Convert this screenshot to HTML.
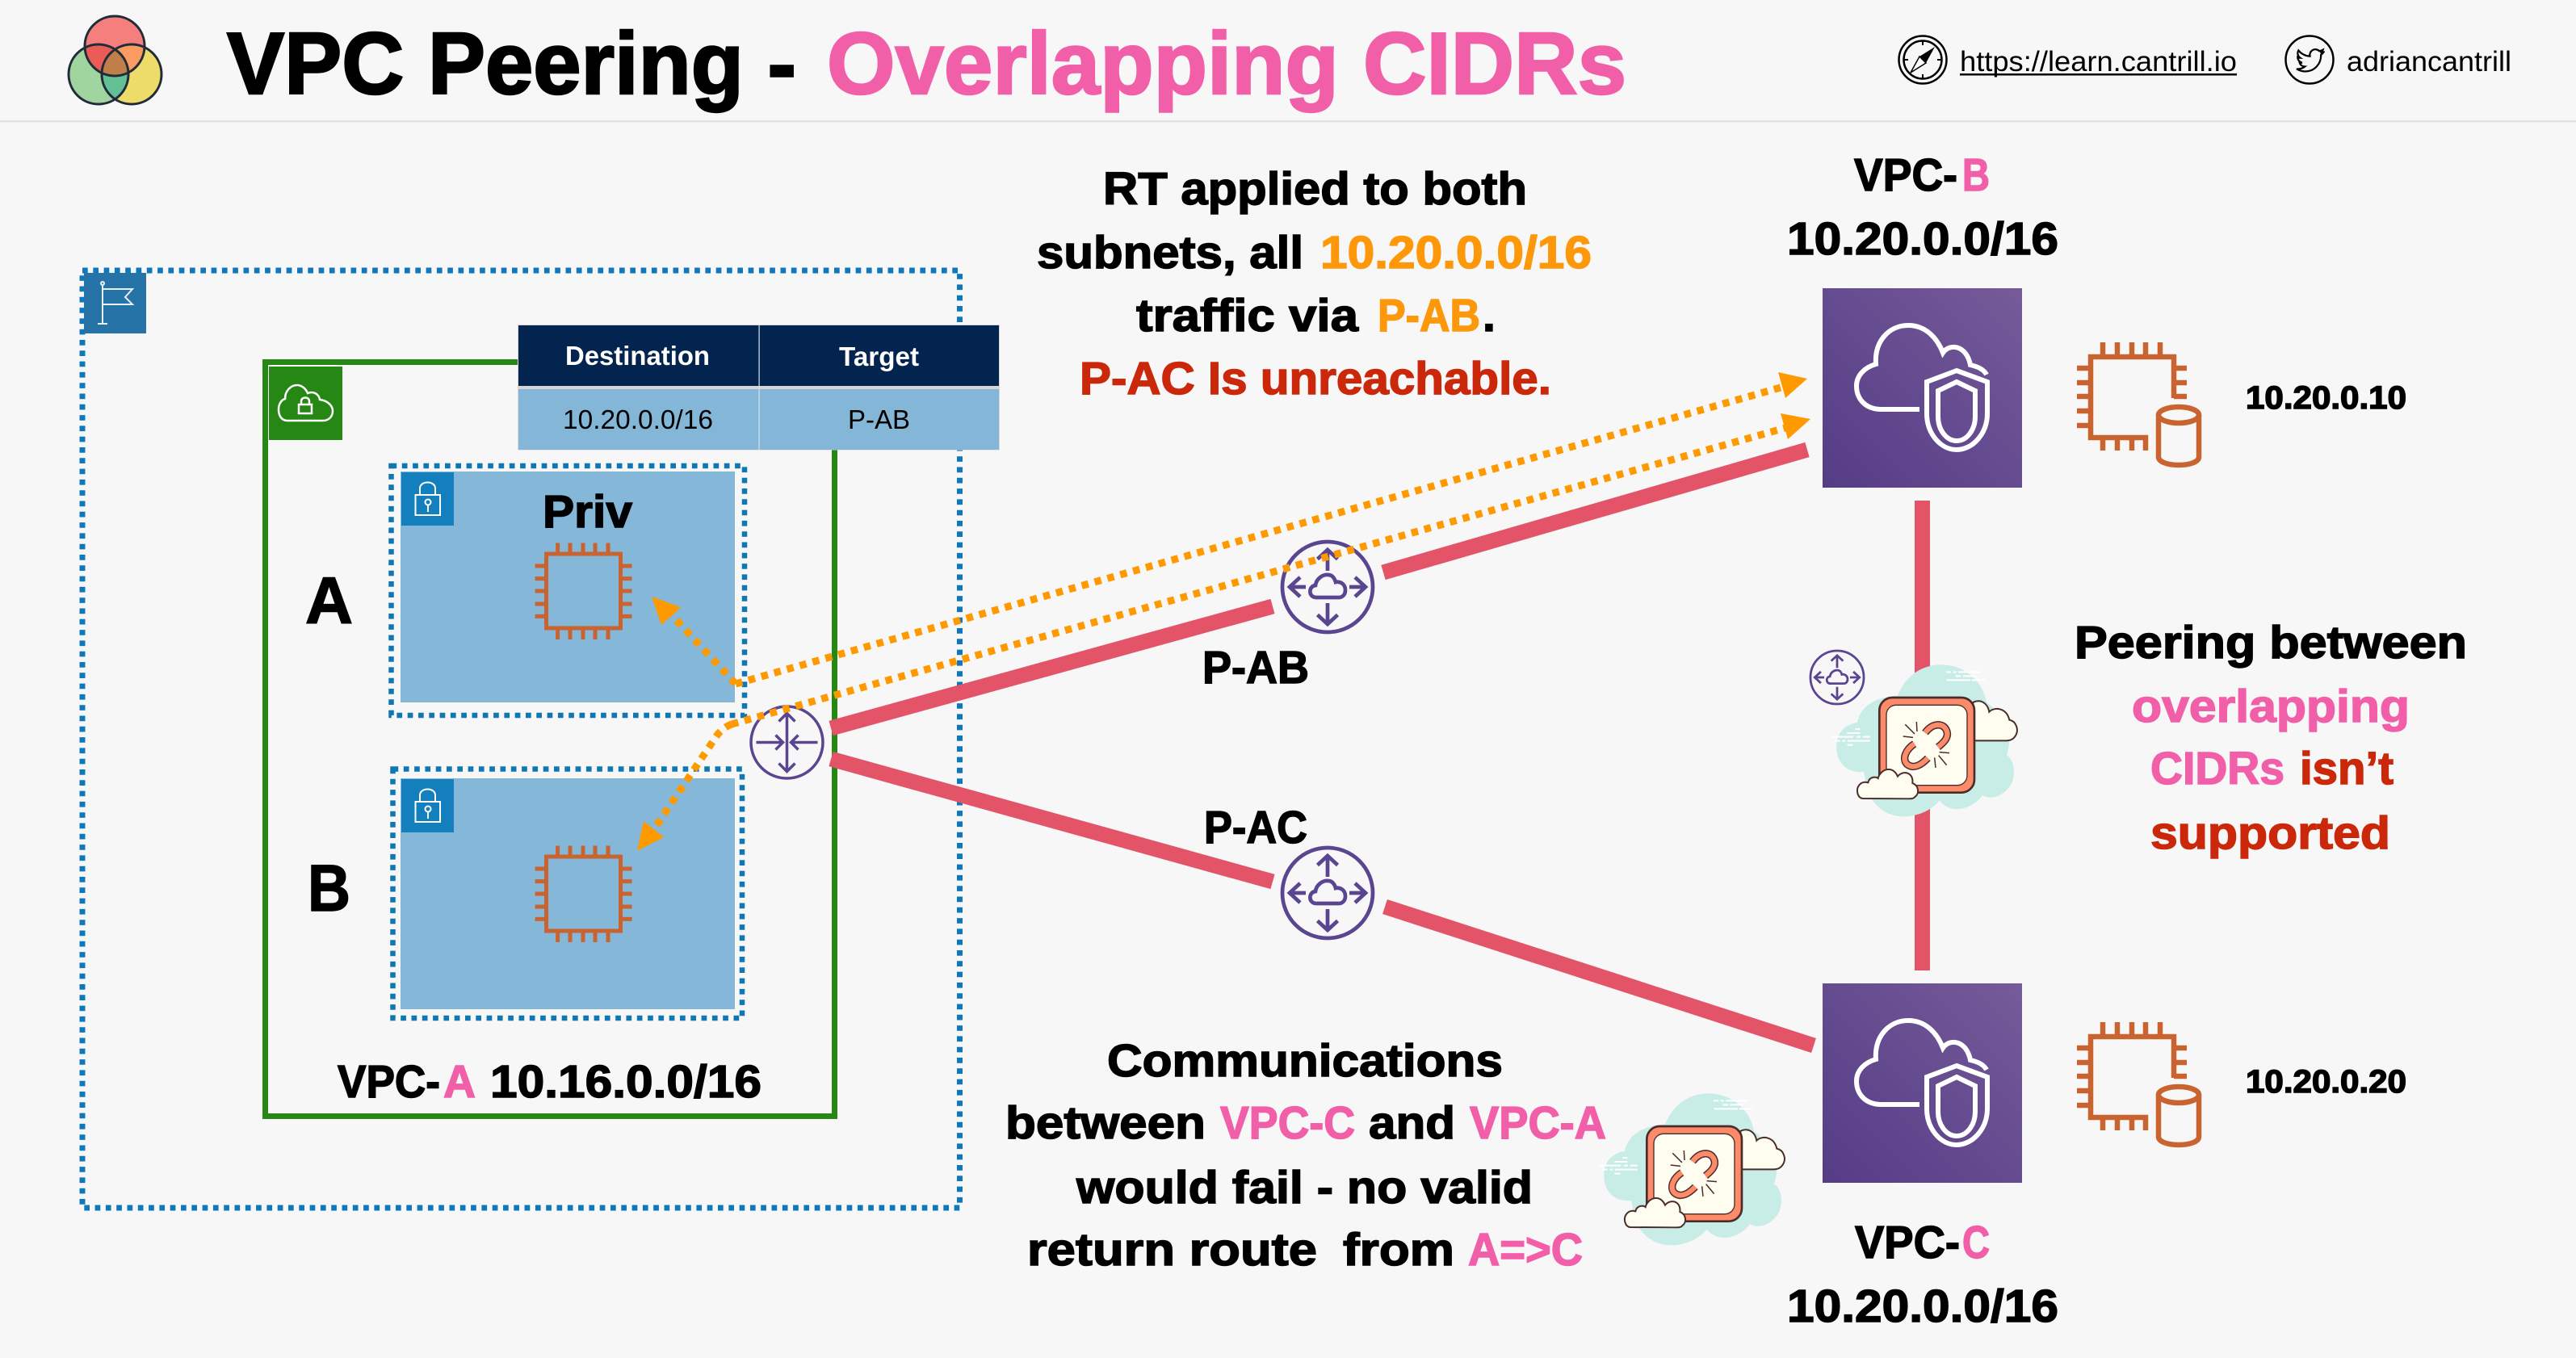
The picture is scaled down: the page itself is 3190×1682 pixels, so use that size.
<!DOCTYPE html>
<html><head><meta charset="utf-8"><title>VPC Peering - Overlapping CIDRs</title>
<style>
html,body{margin:0;padding:0;background:#f7f7f7;width:3190px;height:1682px;overflow:hidden}
svg{display:block}
text{font-family:"Liberation Sans",sans-serif;font-weight:700;fill:#000}
.h{stroke:#000;stroke-width:1.5px}
.pk{fill:#f25fa9;stroke:#f25fa9;stroke-width:1.5px}
.or{fill:#fd980b;stroke:#fd980b;stroke-width:1.5px}
.rd{fill:#cb280b;stroke:#cb280b;stroke-width:1.5px}
</style></head><body>
<svg width="3190" height="1682" viewBox="0 0 3190 1682" xmlns="http://www.w3.org/2000/svg">
<defs>
<linearGradient id="pg" x1="0" y1="1" x2="1" y2="0"><stop offset="0" stop-color="#553c86"/><stop offset="1" stop-color="#755b99"/></linearGradient>
<clipPath id="cR"><circle cx="142" cy="57" r="37"/></clipPath>
<clipPath id="cG"><circle cx="122" cy="92" r="37"/></clipPath>
<clipPath id="cY"><circle cx="163" cy="92" r="37"/></clipPath>

<g id="rt" fill="none" stroke="#5a4590" stroke-width="4.7">
<circle r="56"/>
<path d="M0 -20V-46M-12.500 -34.500L0 -46L12.500 -34.500M0 20V46M-12.500 34.500L0 46L12.500 34.500M-27 0H-47M-34 -12L-47 0L-34 12M27 0H47M34 -12L47 0L34 12"/>
<path d="M-14 13C-24 13 -24 -1 -15 -2C-14 -10 -6 -16 1 -15C6 -15 9 -10 10 -6C14 -7 22 -5 22 4C22 10 18 13 14 13Z"/>
</g>

<g id="chip" fill="none" stroke="#c96430" stroke-width="5">
<rect x="676.500" y="686" width="92" height="92"/>
<path d="M690.600 672.500V684M706 672.500V684M722 672.500V684M737 672.500V684M753 672.500V684M690.600 780V792M706 780V792M722 780V792M737 780V792M753 780V792M662.500 701H674M662.500 716.600H674M662.500 732H674M662.500 748H674M662.500 763.400H674M771 701H782.500M771 716.600H782.500M771 732H782.500M771 748H782.500M771 763.400H782.500"/>
</g>

<g id="chipdb" fill="none" stroke="#c96430" stroke-width="6.500">
<path d="M2692 1335V1284H2589V1384H2657V1400"/>
<path d="M2604 1266V1282M2622 1266V1282M2640 1266V1282M2657 1266V1282M2675 1266V1282M2604 1384V1400M2622 1384V1400M2640 1384V1400M2572 1298H2588M2572 1316H2588M2572 1333H2588M2572 1351H2588M2572 1369H2588M2692 1298H2708M2692 1316H2708M2692 1333H2708"/>
<ellipse cx="2698" cy="1356" rx="25" ry="10"/>
<path d="M2673 1356V1408C2673 1414 2684 1418 2698 1418C2712 1418 2723 1414 2723 1408V1356"/>
</g>

<g id="vpc">
<rect x="0" y="0" width="247" height="247" fill="url(#pg)"/>
<g fill="none" stroke="#fff" stroke-width="6">
<path d="M120 150H73C52 150 42 136 42 121C42 108 52 98 66 94C64 66 82 46 106 46C128 46 142 62 149 80C157 68 178 70 183 95C192 97 200 101 203 107"/>
<path d="M166 102L129 116V155C129 180 146 200 166 200C186 200 204 180 204 155V116Z"/>
<path d="M166 116L143 127V159C143 175 153 189 166 189C179 189 189 175 189 159V127Z"/>
</g>
</g>

<g id="lock" fill="none" stroke="#fff" stroke-width="2">
<rect x="514.500" y="613" width="30.500" height="25"/>
<path d="M520 613V605C520 595 539 595 539 605V613"/>
<circle cx="530" cy="622" r="3.500"/>
<path d="M530 625.500V634"/>
</g>

<g id="broken" transform="translate(2180 780) scale(.3333)">
<path fill="#c8ece6" d="M510 245C540 170 600 130 670 130C760 130 825 190 840 270C880 300 925 350 925 410C925 430 920 450 915 465C950 490 950 560 920 590C890 625 850 630 825 615C790 665 710 690 665 635C620 690 530 710 470 680C430 660 410 630 395 590L385 528C320 535 280 490 283 430C283 380 320 350 360 345C370 290 420 250 510 245Z"/>
<path fill="#fffcf0" stroke="#4a2d2a" stroke-width="6" d="M790 270C820 255 845 275 850 305C870 285 915 290 925 335C950 340 960 370 950 390C940 410 925 412 915 412H790Z"/>
<rect x="442" y="252" width="353" height="353" rx="48" fill="#fd8a68" stroke="#4a2d2a" stroke-width="8"/>
<rect x="468" y="280" width="300" height="298" rx="36" fill="#fffcf0" stroke="#4a2d2a" stroke-width="4"/>
<g fill="none">
<path stroke="#4a2d2a" stroke-width="28" d="M612 383C640 345 680 345 692 375C702 400 680 420 660 436"/>
<path stroke="#fd8a68" stroke-width="19" d="M612 383C640 345 680 345 692 375C702 400 680 420 660 436"/>
<path stroke="#4a2d2a" stroke-width="28" d="M572 424C540 445 525 480 545 500C570 520 600 500 622 477"/>
<path stroke="#fd8a68" stroke-width="19" d="M572 424C540 445 525 480 545 500C570 520 600 500 622 477"/>
<path stroke="#4a2d2a" stroke-width="4.500" d="M538 352L573 387M580 342L582 378M530 396L567 400M665 455L702 458M647 475L651 513M662 467L692 503"/>
</g>
<path fill="#fffcf0" stroke="#4a2d2a" stroke-width="6" d="M380 627C360 625 355 595 365 580C375 565 390 565 400 568C405 545 430 545 437 552C445 520 490 500 510 545C530 520 570 530 565 570C590 580 590 610 575 620C570 628 560 628 550 628Z"/>
<path stroke="#fff" stroke-width="6" fill="none" d="M690 157H708M716 157H728M735 157H818M725 172H745M752 172H800M692 187H780M785 187H835M352 369H370M322 384H370M263 398H345M358 398H372M380 398H407M277 413H296M304 413H316M323 413H407M322 428H344"/>
</g>
</defs>

<rect width="3190" height="1682" fill="#f7f7f7"/>
<rect x="0" y="149" width="3190" height="2.500" fill="#e1e1e1"/>

<!-- logo -->
<circle cx="142" cy="57" r="37" fill="#f47f7d"/>
<circle cx="122" cy="92" r="37" fill="#a0d5a0"/>
<circle cx="163" cy="92" r="37" fill="#eddc6a"/>
<g clip-path="url(#cR)"><circle cx="122" cy="92" r="37" fill="#ea5c55"/><circle cx="163" cy="92" r="37" fill="#fa9b62"/></g>
<g clip-path="url(#cG)"><circle cx="163" cy="92" r="37" fill="#62bf96"/></g>
<g clip-path="url(#cR)"><g clip-path="url(#cG)"><circle cx="163" cy="92" r="37" fill="#c07f4a"/></g></g>
<g fill="none" stroke="#222b3a" stroke-width="3"><circle cx="142" cy="57" r="37"/><circle cx="122" cy="92" r="37"/><circle cx="163" cy="92" r="37"/></g>

<!-- title -->
<text x="281" y="116" font-size="109" textLength="705" lengthAdjust="spacingAndGlyphs" style="stroke:#000;stroke-width:2.500px">VPC Peering -</text>
<text x="1024" y="116" font-size="109" textLength="990" lengthAdjust="spacingAndGlyphs" style="fill:#f25fa9;stroke:#f25fa9;stroke-width:2.500px">Overlapping CIDRs</text>

<!-- header right -->
<g fill="none" stroke="#000">
<circle cx="2381" cy="74" r="29.500" stroke-width="2.500"/>
<circle cx="2381" cy="74" r="23.500" stroke-width="2.500"/>
<path stroke-width="2" d="M2381 50.500V56M2381 92V97.500M2357.500 74H2363M2399 74H2404.500"/>
</g>
<polygon points="2396,58 2385,78 2377,70" fill="#000"/>
<polygon points="2366,90 2377,70 2385,78" fill="#fff" stroke="#000" stroke-width="1.500"/>
<text x="2427" y="88" font-size="35" textLength="343" lengthAdjust="spacingAndGlyphs" style="font-weight:400">https://learn.cantrill.io</text>
<rect x="2427" y="91" width="343" height="2.500" fill="#000"/>
<circle cx="2860" cy="74" r="29.500" fill="none" stroke="#000" stroke-width="2.500"/>
<path transform="translate(2844 58) scale(1.400)" fill="none" stroke="#000" stroke-width="1.600" d="M23.953 4.570a10 10 0 01-2.825.775 4.958 4.958 0 002.163-2.723c-.951.555-2.005.959-3.127 1.184a4.920 4.920 0 00-8.384 4.482C7.690 8.095 4.067 6.130 1.640 3.162a4.822 4.822 0 00-.666 2.475c0 1.710.870 3.213 2.188 4.096a4.904 4.904 0 01-2.228-.616v.060a4.923 4.923 0 003.946 4.827 4.996 4.996 0 01-2.212.085 4.936 4.936 0 004.604 3.417 9.867 9.867 0 01-6.102 2.105c-.390 0-.779-.023-1.170-.067a13.995 13.995 0 007.557 2.209c9.053 0 13.998-7.496 13.998-13.985 0-.210 0-.420-.015-.630A9.935 9.935 0 0024 4.590z"/>
<text x="2906" y="88" font-size="35" textLength="204" lengthAdjust="spacingAndGlyphs" style="font-weight:400">adriancantrill</text>

<!-- outer region -->
<rect x="102" y="335" width="1086.500" height="1161" fill="none" stroke="#0f78bb" stroke-width="7" stroke-dasharray="6.700 6.600"/>
<rect x="104" y="338" width="77" height="75" fill="#2573a7"/>
<g fill="none" stroke="#e8f0f5" stroke-width="2">
<path d="M127 353V401M121 401H133"/>
<circle cx="127" cy="351" r="2"/>
<path d="M127 358H164L155 368L164 377H127"/>
</g>

<!-- VPC A -->
<rect x="328.500" y="448.500" width="705" height="934" fill="none" stroke="#268715" stroke-width="7"/>
<rect x="333" y="454" width="91" height="91" fill="#268715"/>
<g fill="none" stroke="#fff" stroke-width="2.500">
<path d="M356 521C348 521 345 514 345 507C345 500 349 495 353 494C353 484 360 477 368 477C374 477 379 482 381 487C388 484 395 488 396 495C405 496 412 502 412 509C412 516 407 521 400 521Z"/>
<rect x="370" y="501" width="16" height="11"/>
<path d="M373 501V497C373 491 383 491 383 497V501"/>
</g>

<!-- subnets -->
<rect x="484.500" y="577" width="437.500" height="309" fill="none" stroke="#0f77b2" stroke-width="6.500" stroke-dasharray="6.700 6.600"/>
<rect x="496" y="584" width="414" height="286" fill="#84b7d8"/>
<rect x="497" y="585" width="65" height="66" fill="#147fbd"/>
<use href="#lock"/>
<rect x="486.500" y="952.500" width="432.500" height="308.500" fill="none" stroke="#0f77b2" stroke-width="6.500" stroke-dasharray="6.700 6.600"/>
<rect x="496" y="964" width="414" height="286" fill="#84b7d8"/>
<rect x="497" y="965" width="65" height="66" fill="#147fbd"/>
<use href="#lock" transform="translate(0 380)"/>
<use href="#chip"/>
<use href="#chip" transform="translate(0 375)"/>
<text x="672" y="653" font-size="57" textLength="111" lengthAdjust="spacingAndGlyphs" class="h">Priv</text>
<text x="378" y="772" font-size="82" textLength="59" lengthAdjust="spacingAndGlyphs" class="h">A</text>
<text x="381" y="1128" font-size="82" textLength="53" lengthAdjust="spacingAndGlyphs" class="h">B</text>
<text x="418" y="1359" font-size="57" textLength="127" lengthAdjust="spacingAndGlyphs" class="h">VPC-</text>
<text x="549" y="1359" font-size="57" textLength="40" lengthAdjust="spacingAndGlyphs" class="pk">A</text>
<text x="607" y="1359" font-size="57" textLength="336" lengthAdjust="spacingAndGlyphs" class="h">10.16.0.0/16</text>

<!-- table -->
<rect x="641" y="402" width="597" height="155.500" fill="#d6d6d6"/>
<rect x="642" y="403" width="595" height="75" fill="#03244f"/>
<rect x="642" y="482" width="595" height="75" fill="#84b7d7"/>
<rect x="939.500" y="403" width="1.200" height="154" fill="#d6e2ea"/>
<text x="700" y="452" font-size="33" textLength="179" lengthAdjust="spacingAndGlyphs" style="fill:#fff">Destination</text>
<text x="1039" y="453" font-size="33" textLength="99" lengthAdjust="spacingAndGlyphs" style="fill:#fff">Target</text>
<text x="697" y="531" font-size="33" textLength="186" lengthAdjust="spacingAndGlyphs" style="font-weight:400">10.20.0.0/16</text>
<text x="1050" y="531" font-size="33" textLength="77" lengthAdjust="spacingAndGlyphs" style="font-weight:400">P-AB</text>

<!-- red lines -->
<g stroke="#e35469" stroke-width="19" fill="none">
<path d="M1029 902L1576 751"/>
<path d="M1713 709L2238 557"/>
<path d="M1029 940L1576 1092"/>
<path d="M1715 1123L2246 1295"/>
<path d="M2380.500 620V1202"/>
</g>

<!-- router at A -->
<g transform="translate(974.500 919.500)" fill="none" stroke="#5a4590" stroke-width="3.500">
<circle r="44.500"/>
<path d="M0 -36V36M-10 -26L0 -36L10 -26M-10 26L0 36L10 26M-38 0H-5M-14 -9L-5 0L-14 9M38 0H5M14 -9L5 0L14 9"/>
</g>

<use href="#rt" transform="translate(1644 727)"/>
<use href="#rt" transform="translate(1644 1106)"/>
<use href="#rt" transform="translate(2275 839) scale(.59)"/>

<use href="#vpc" transform="translate(2257 357)"/>
<use href="#vpc" transform="translate(2257 1218)"/>
<use href="#chipdb" transform="translate(0 -842)"/>
<use href="#chipdb"/>

<use href="#broken"/>
<use href="#broken" transform="translate(-288 531)"/>

<!-- orange -->
<g fill="none" stroke="#ff9900" stroke-width="9" stroke-dasharray="8.500 8">
<path d="M911 847L2212 478"/>
<path d="M906 897L2218 528"/>
<path d="M911 847L832 762"/>
<path d="M906 897C898 900 892 905 887 912L812 1024"/>
</g>
<g fill="#ff9900">
<polygon points="2238,469 2202,461 2211,493"/>
<polygon points="2242,519 2205,512 2214,544"/>
<polygon points="807,739 843,752 819,774"/>
<polygon points="789,1054 797,1017 822,1037"/>
</g>

<!-- labels -->
<text x="1489" y="846" font-size="57" textLength="132" lengthAdjust="spacingAndGlyphs" class="h">P-AB</text>
<text x="1491" y="1044" font-size="57" textLength="128" lengthAdjust="spacingAndGlyphs" class="h">P-AC</text>

<text x="1366" y="253" font-size="57" textLength="525" lengthAdjust="spacingAndGlyphs" class="h">RT applied to both</text>
<text x="1284" y="332" font-size="57" textLength="330" lengthAdjust="spacingAndGlyphs" class="h">subnets, all</text>
<text x="1635" y="332" font-size="57" textLength="336" lengthAdjust="spacingAndGlyphs" class="or">10.20.0.0/16</text>
<text x="1407" y="410" font-size="57" textLength="275" lengthAdjust="spacingAndGlyphs" class="h">traffic via</text>
<text x="1706" y="410" font-size="57" textLength="127" lengthAdjust="spacingAndGlyphs" class="or">P-AB</text>
<text x="1836" y="410" font-size="57" class="h">.</text>
<text x="1337" y="488" font-size="57" textLength="584" lengthAdjust="spacingAndGlyphs" class="rd">P-AC Is unreachable.</text>

<text x="2296" y="236" font-size="57" textLength="128" lengthAdjust="spacingAndGlyphs" class="h">VPC-</text>
<text x="2430" y="236" font-size="57" textLength="34" lengthAdjust="spacingAndGlyphs" class="pk">B</text>
<text x="2213" y="315" font-size="57" textLength="336" lengthAdjust="spacingAndGlyphs" class="h">10.20.0.0/16</text>
<text x="2297" y="1558" font-size="57" textLength="130" lengthAdjust="spacingAndGlyphs" class="h">VPC-</text>
<text x="2430" y="1558" font-size="57" textLength="34" lengthAdjust="spacingAndGlyphs" class="pk">C</text>
<text x="2213" y="1637" font-size="57" textLength="336" lengthAdjust="spacingAndGlyphs" class="h">10.20.0.0/16</text>
<text x="2781" y="506" font-size="40" textLength="199" lengthAdjust="spacingAndGlyphs" class="h">10.20.0.10</text>
<text x="2781" y="1353" font-size="40" textLength="199" lengthAdjust="spacingAndGlyphs" class="h">10.20.0.20</text>

<text x="2569" y="815" font-size="57" textLength="486" lengthAdjust="spacingAndGlyphs" class="h">Peering between</text>
<text x="2640" y="894" font-size="57" textLength="344" lengthAdjust="spacingAndGlyphs" class="pk">overlapping</text>
<text x="2663" y="971" font-size="57" textLength="166" lengthAdjust="spacingAndGlyphs" class="pk">CIDRs</text>
<text x="2848" y="971" font-size="57" textLength="116" lengthAdjust="spacingAndGlyphs" class="rd">isn’t</text>
<text x="2663" y="1051" font-size="57" textLength="297" lengthAdjust="spacingAndGlyphs" class="rd">supported</text>

<text x="1371" y="1333" font-size="57" textLength="490" lengthAdjust="spacingAndGlyphs" class="h">Communications</text>
<text x="1245" y="1410" font-size="57" textLength="248" lengthAdjust="spacingAndGlyphs" class="h">between</text>
<text x="1511" y="1410" font-size="57" textLength="167" lengthAdjust="spacingAndGlyphs" class="pk">VPC-C</text>
<text x="1695" y="1410" font-size="57" textLength="107" lengthAdjust="spacingAndGlyphs" class="h">and</text>
<text x="1820" y="1410" font-size="57" textLength="169" lengthAdjust="spacingAndGlyphs" class="pk">VPC-A</text>
<text x="1333" y="1490" font-size="57" textLength="565" lengthAdjust="spacingAndGlyphs" class="h">would fail - no valid</text>
<text x="1272" y="1567" font-size="57" textLength="359" lengthAdjust="spacingAndGlyphs" class="h">return route</text>
<text x="1663" y="1567" font-size="57" textLength="138" lengthAdjust="spacingAndGlyphs" class="h">from</text>
<text x="1818" y="1567" font-size="57" textLength="142" lengthAdjust="spacingAndGlyphs" class="pk">A=&gt;C</text>
</svg>
</body></html>
